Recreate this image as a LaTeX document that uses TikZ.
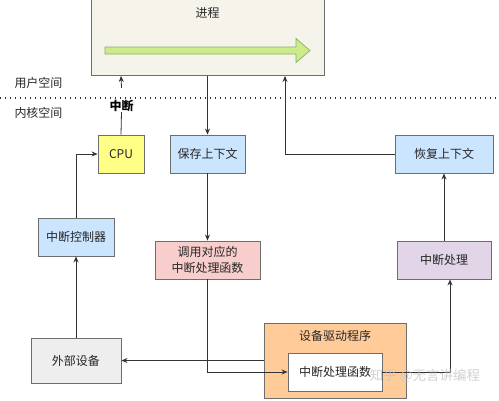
\documentclass[tikz,border=0pt]{standalone}
\usepackage{fontspec}
\setmainfont{Noto Sans CJK SC}
\usetikzlibrary{arrows.meta,calc}
\definecolor{procfill}{HTML}{F5F3EA}
\definecolor{boxline}{HTML}{6E6E6E}
\definecolor{cpufill}{HTML}{FFFF88}
\definecolor{bluefill}{HTML}{CCE5FF}
\definecolor{pinkfill}{HTML}{F8CECC}
\definecolor{purplefill}{HTML}{E1D5E7}
\definecolor{grayfill}{HTML}{EEEEEE}
\definecolor{orangefill}{HTML}{FFCC99}
\definecolor{greenfill}{HTML}{CDEB8B}
\definecolor{greenline}{HTML}{82B366}
\definecolor{conn}{HTML}{333333}
\tikzset{
  box/.style={draw=boxline, line width=0.9pt, inner sep=0pt, align=center, text=black!85, font=\fontsize{12}{15.5}\selectfont},
  arr/.style={draw=conn, line width=0.8pt, -{Stealth[length=6pt,width=5pt]}},
  plain/.style={draw=conn, line width=0.8pt},
  lbl/.style={font=\fontsize{12}{14}\selectfont, text=black!85, inner sep=0pt}
}
\begin{document}
\begin{tikzpicture}[x=1pt,y=-1pt]
\useasboundingbox (0,0) rectangle (499,400);
\fill[white] (0,0) rectangle (499,400);
% process box
\node[box, fill=procfill, minimum width=233pt, minimum height=76pt] (proc) at (207.5,37.5) {};
\node[lbl] (proct) at (207.5,13) {进程};
\draw[draw=greenline, fill=greenfill, line width=0.7pt]
  (105,47) -- (296,47) -- (296,38.5) -- (310,50.5) -- (296,62.5) -- (296,54) -- (105,54) -- cycle;
% space labels and divider
\node[lbl] (user) at (38.5,83) {用户空间};
\node[lbl] (kern) at (38.5,113) {内核空间};
\draw[black!80, line width=1.3pt, dash pattern=on 1.3pt off 3.7pt] (0,98) -- (499,98);
% boxes
\node[box, fill=cpufill, minimum width=46pt, minimum height=38pt] (cpu) at (121,154) {CPU};
\node[box, fill=bluefill, minimum width=75pt, minimum height=38pt] (save) at (207.5,154) {保存上下文};
\node[box, fill=bluefill, minimum width=98pt, minimum height=38pt] (restore) at (444,154) {恢复上下文};
\node[box, fill=bluefill, minimum width=76pt, minimum height=38pt] (ctrl) at (76,237) {中断控制器};
\node[box, fill=pinkfill, minimum width=105pt, minimum height=38pt] (call) at (207.5,260) {调用对应的\\中断处理函数};
\node[box, fill=purplefill, minimum width=94pt, minimum height=38pt] (handle) at (444,260) {中断处理};
\node[box, fill=grayfill, minimum width=90pt, minimum height=45pt] (ext) at (76,360.5) {外部设备};
\node[box, fill=orangefill, minimum width=142pt, minimum height=75pt] (drv) at (335,360.5) {};
\node[lbl] (drvt) at (335,336) {设备驱动程序};
\node[box, fill=white, minimum width=94pt, minimum height=38pt] (isr) at (335,372) {中断处理函数};
% label on cpu arrow
\node[lbl, font=\fontsize{12}{14}\selectfont\bfseries, text=black] (intr) at (121.5,106) {中断};
% connectors
\draw[plain] (cpu.north) -- (intr.south);
\draw[arr] (intr.north |- user.south) ++(0,-1) -- (cpu.north |- proc.south);
\draw[arr] (proc.south) -- (save.north);
\draw[arr] (restore.west) -| ([xshift=77.5pt]proc.south);
\draw[arr] (ctrl.north) |- (cpu.west);
\draw[arr] (save.south) -- (call.north);
\draw[arr] (handle.north) -- (restore.south);
\draw[arr] (ext.north) -- (ctrl.south);
\draw[arr] (call.south) |- (isr.west);
\draw[arr] (isr.east) -| ([xshift=6pt]handle.south);
\draw[arr] (drv.west) -- (ext.east);
% watermark
\node[lbl, font=\fontsize{13.5}{15}\selectfont, text=gray!45, opacity=0.8] (wm) at (425,376) {知乎 @无言讲编程};
\end{tikzpicture}
\end{document}
